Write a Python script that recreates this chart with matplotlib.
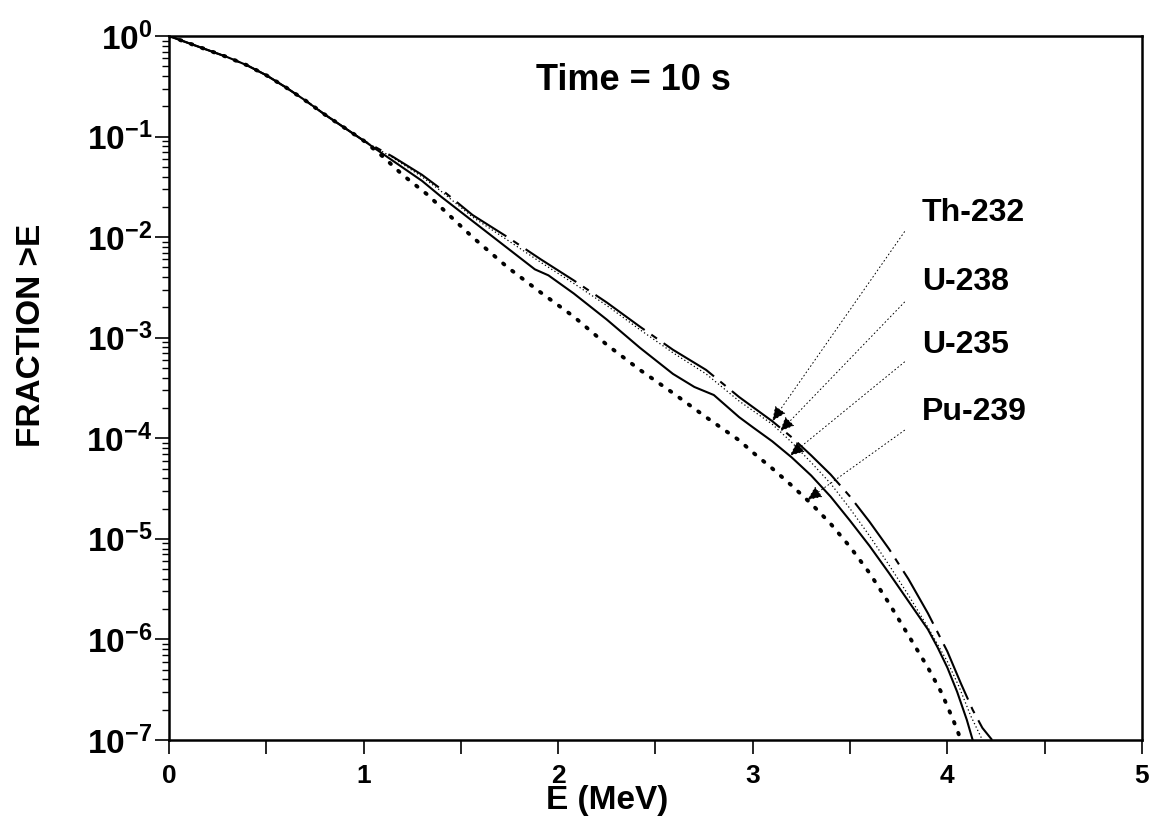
import numpy as np
import matplotlib
matplotlib.use("Agg")
import matplotlib.pyplot as plt
from matplotlib.ticker import MultipleLocator, LogLocator, FuncFormatter, NullFormatter

plt.rcParams['font.family'] = ['Liberation Sans', 'DejaVu Sans']
plt.rcParams['font.weight'] = 'bold'
plt.rcParams['mathtext.fontset'] = 'custom'
plt.rcParams['mathtext.rm'] = 'Liberation Sans:bold'
plt.rcParams['mathtext.it'] = 'Liberation Sans:bold'
plt.rcParams['mathtext.bf'] = 'Liberation Sans:bold'

# energies (MeV) and log10(fraction > E)
e_common = [0, 0.1, 0.2, 0.3, 0.4, 0.5, 0.6, 0.7, 0.8, 0.9, 1.0]
log_common = [0, -0.07, -0.14, -0.21, -0.29, -0.39, -0.51, -0.64, -0.78, -0.91, -1.04]

e_th232 = [1.15, 1.3, 1.39, 1.56, 1.74, 1.91, 2.08, 2.25, 2.42, 2.59, 2.76, 2.93,
           3.10, 3.2, 3.3, 3.4, 3.5, 3.6, 3.7, 3.8, 3.9, 4.0, 4.07, 4.13, 4.18, 4.23]
log_th232 = [-1.20, -1.38, -1.51, -1.78, -2.00, -2.22, -2.43, -2.65, -2.89, -3.12, -3.32, -3.59,
             -3.83, -3.99, -4.17, -4.36, -4.58, -4.83, -5.10, -5.40, -5.74, -6.12, -6.44, -6.70, -6.88, -7.0]

e_u238 = [1.15, 1.3, 1.39, 1.56, 1.74, 1.91, 2.08, 2.25, 2.42, 2.59, 2.76, 2.93,
          3.10, 3.2, 3.3, 3.4, 3.5, 3.6, 3.7, 3.8, 3.9, 4.0, 4.06, 4.12, 4.18]
log_u238 = [-1.21, -1.40, -1.53, -1.80, -2.03, -2.25, -2.46, -2.68, -2.92, -3.15, -3.36, -3.63,
            -3.86, -4.04, -4.24, -4.45, -4.70, -4.97, -5.26, -5.56, -5.88, -6.22, -6.47, -6.76, -7.0]

e_u235 = [1.15, 1.3, 1.4, 1.56, 1.74, 1.88, 1.95, 2.08, 2.25, 2.42, 2.59, 2.7, 2.8, 2.93,
          3.0, 3.1, 3.2, 3.3, 3.4, 3.5, 3.6, 3.7, 3.8, 3.9, 3.95, 4.0, 4.05, 4.1, 4.13]
log_u235 = [-1.24, -1.44, -1.60, -1.84, -2.11, -2.32, -2.38, -2.56, -2.82, -3.10, -3.36, -3.49, -3.57, -3.79,
            -3.89, -4.03, -4.19, -4.37, -4.58, -4.82, -5.07, -5.34, -5.62, -5.90, -6.08, -6.28, -6.52, -6.80, -7.0]

e_pu239 = [1.1, 1.2, 1.33, 1.45, 1.56, 1.74, 1.91, 2.08, 2.25, 2.42, 2.59, 2.76, 2.93,
           3.0, 3.1, 3.2, 3.3, 3.4, 3.5, 3.6, 3.7, 3.8, 3.9, 3.97, 4.03, 4.07]
log_pu239 = [-1.20, -1.38, -1.58, -1.80, -2.00, -2.30, -2.55, -2.79, -3.07, -3.32, -3.55, -3.79, -4.02,
             -4.14, -4.30, -4.47, -4.65, -4.85, -5.08, -5.34, -5.64, -5.96, -6.28, -6.53, -6.80, -7.0]

labels = ['Th-232', 'U-238', 'U-235', 'Pu-239']
# energy where each leader arrow touches its curve
arrow_e = [3.10, 3.14, 3.19, 3.28]
# label position and leader start, axes fraction
label_y = [0.749, 0.651, 0.561, 0.466]
lead_y = [0.722, 0.622, 0.537, 0.440]

fig = plt.figure(figsize=(11.55, 8.22), dpi=100)
ax = fig.add_axes([0.1463, 0.0998, 0.8424, 0.8564])

series = [(e_th232, log_th232), (e_u238, log_u238), (e_u235, log_u235), (e_pu239, log_pu239)]
curves = []
for e, lg in series:
    x = np.array(e_common + e)
    y = 10.0 ** np.array(log_common + lg)
    curves.append((x, y))

ax.plot(*curves[0], color='black', lw=1.5, dashes=(29, 3.9, 3.3, 3.9))
ax.plot(*curves[1], color='black', lw=0.9, dashes=(1, 2))
ax.plot(*curves[2], color='black', lw=1.5)
ax.plot(*curves[3], color='black', lw=2.8, dashes=(0.4, 2.6), dash_capstyle='round')

ax.set_yscale('log')
ax.set_xlim(0, 5)
ax.set_ylim(1e-7, 1)

ax.xaxis.set_major_locator(MultipleLocator(1))
ax.xaxis.set_minor_locator(MultipleLocator(0.5))
ax.yaxis.set_major_locator(LogLocator(base=10, numticks=20))
ax.yaxis.set_minor_locator(LogLocator(base=10, subs=np.arange(2, 10), numticks=20))
ax.yaxis.set_minor_formatter(NullFormatter())
ax.yaxis.set_major_formatter(FuncFormatter(lambda v, p: r'$10^{%d}$' % round(np.log10(v))))

for s in ax.spines.values():
    s.set_linewidth(1.8)
ax.tick_params(axis='x', which='both', direction='out', length=10, width=1.2, labelsize=19, pad=7)
ax.tick_params(axis='y', which='major', direction='out', length=10, width=1.2, labelsize=24, pad=2)
ax.tick_params(axis='y', which='minor', direction='out', length=5, width=1.0)
for t in ax.get_xticklabels() + ax.get_yticklabels():
    t.set_fontweight('bold')

ax.set_xlabel('E (MeV)', fontsize=24, fontweight='bold')
ax.xaxis.set_label_coords(0.45, -0.064)
ax.set_ylabel('FRACTION >E', fontsize=24, fontweight='bold')
ax.yaxis.set_label_coords(-0.125, 0.575)

ax.text(0.477, 0.923, 'Time = 10 s', transform=ax.transAxes, ha='center', va='baseline',
        fontsize=26, fontweight='bold')

for i, name in enumerate(labels):
    x, y = curves[i]
    tip_y = 10 ** np.interp(arrow_e[i], x, np.log10(y))
    ax.text(0.774, label_y[i], name, transform=ax.transAxes, ha='left', va='center',
            fontsize=23, fontweight='bold')
    ax.annotate('', xy=(arrow_e[i], tip_y), xycoords='data',
                xytext=(0.756, lead_y[i]), textcoords='axes fraction',
                arrowprops=dict(arrowstyle='-|>,head_length=0.9,head_width=0.4',
                                color='black', lw=0.7, linestyle=(0, (1, 3)),
                                shrinkA=0, shrinkB=0))

fig.savefig('out.png', dpi=100)
